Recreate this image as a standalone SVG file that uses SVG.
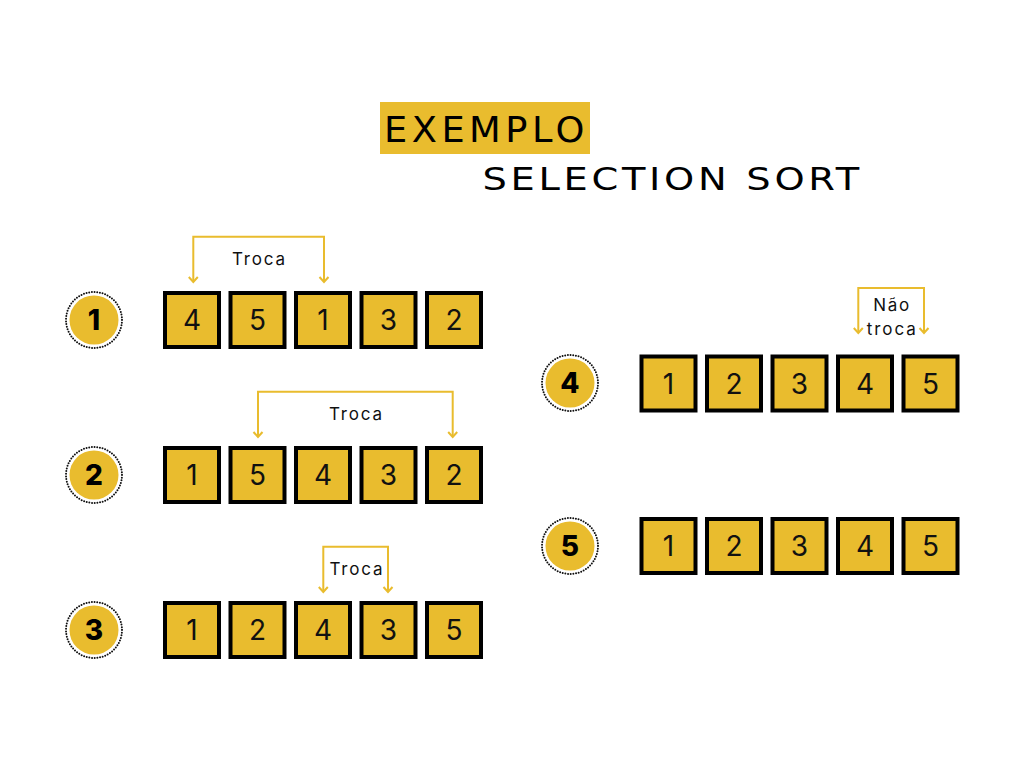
<svg xmlns="http://www.w3.org/2000/svg" width="1024" height="768" viewBox="0 0 1024 768">
<defs>
<style>
.box rect{fill:#E9BC2E;stroke:#000;stroke-width:4}
.box text{font-family:Inter,"Noto Sans",sans-serif;font-size:28px;fill:#111;text-anchor:middle}
.step circle.in{fill:#E9BC2E}
.step circle.ring{fill:none;stroke:#111;stroke-width:2;stroke-dasharray:0 2.7;stroke-linecap:round}
.step text{font-family:Inter,"Noto Sans",sans-serif;font-size:28px;font-weight:800;fill:#000;text-anchor:middle}
.conn{fill:none;stroke:#E9BC2E;stroke-width:2}
.lbl{font-family:Inter,"Noto Sans",sans-serif;font-size:17px;fill:#111;text-anchor:middle}
.title{font-family:"DejaVu Sans","Noto Sans",sans-serif;fill:#000}
</style>
<marker id="ah" markerUnits="userSpaceOnUse" markerWidth="14" markerHeight="14" viewBox="-7 -7 14 14" refX="0" refY="0" orient="auto-start-reverse">
<path d="M-5,-4.5 L0,0 L-5,4.5" fill="none" stroke="#E9BC2E" stroke-width="2"/>
</marker>
</defs>
<rect width="1024" height="768" fill="#fff"/>

<g id="title">
<rect x="380" y="102" width="210" height="52" fill="#E9BC2E"/>
<text class="title" transform="translate(384,141.5) scale(1.05,1)" x="0" y="0" font-size="35" textLength="191" lengthAdjust="spacing">EXEMPLO</text>
<text class="title" transform="translate(482.5,190) scale(1.2,1)" x="0" y="0" font-size="32" textLength="314" lengthAdjust="spacing">SELECTION SORT</text>
</g>

<g id="connectors">
<path class="conn" d="M193.3,282 V236.7 H324 V282" marker-start="url(#ah)" marker-end="url(#ah)"/>
<path class="conn" d="M258,437 V391.7 H452.7 V437" marker-start="url(#ah)" marker-end="url(#ah)"/>
<path class="conn" d="M323.3,592 V546.7 H388 V592" marker-start="url(#ah)" marker-end="url(#ah)"/>
<path class="conn" d="M858.3,333 V288 H924 V333" marker-start="url(#ah)" marker-end="url(#ah)"/>
</g>

<g id="labels">
<text class="lbl" x="258.5" y="265" textLength="53" lengthAdjust="spacing">Troca</text>
<text class="lbl" x="355.5" y="420" textLength="53" lengthAdjust="spacing">Troca</text>
<text class="lbl" x="356" y="575" textLength="53" lengthAdjust="spacing">Troca</text>
<text class="lbl" x="891.3" y="310.7" textLength="36" lengthAdjust="spacing">Não</text>
<text class="lbl" x="891.3" y="335" textLength="49" lengthAdjust="spacing">troca</text>
</g>

<g id="step1" class="step"><circle class="in" cx="94" cy="320" r="24.5"/><circle class="ring" cx="94" cy="320" r="28"/><text x="94" y="330">1</text></g>
<g id="step2" class="step"><circle class="in" cx="94" cy="475" r="24.5"/><circle class="ring" cx="94" cy="475" r="28"/><text x="94" y="485">2</text></g>
<g id="step3" class="step"><circle class="in" cx="94" cy="630" r="24.5"/><circle class="ring" cx="94" cy="630" r="28"/><text x="94" y="640">3</text></g>
<g id="step4" class="step"><circle class="in" cx="570" cy="383" r="24.5"/><circle class="ring" cx="570" cy="383" r="28"/><text x="570" y="393">4</text></g>
<g id="step5" class="step"><circle class="in" cx="570" cy="546" r="24.5"/><circle class="ring" cx="570" cy="546" r="28"/><text x="570" y="556">5</text></g>

<g id="row1">
<g id="r1b1" class="box"><rect x="165" y="293" width="54" height="54"/><text x="192" y="330">4</text></g>
<g id="r1b2" class="box"><rect x="230.5" y="293" width="54" height="54"/><text x="257.5" y="330">5</text></g>
<g id="r1b3" class="box"><rect x="296" y="293" width="54" height="54"/><text x="323" y="330">1</text></g>
<g id="r1b4" class="box"><rect x="361.5" y="293" width="54" height="54"/><text x="388.5" y="330">3</text></g>
<g id="r1b5" class="box"><rect x="427" y="293" width="54" height="54"/><text x="454" y="330">2</text></g>
</g>
<g id="row2">
<g id="r2b1" class="box"><rect x="165" y="448" width="54" height="54"/><text x="192" y="485">1</text></g>
<g id="r2b2" class="box"><rect x="230.5" y="448" width="54" height="54"/><text x="257.5" y="485">5</text></g>
<g id="r2b3" class="box"><rect x="296" y="448" width="54" height="54"/><text x="323" y="485">4</text></g>
<g id="r2b4" class="box"><rect x="361.5" y="448" width="54" height="54"/><text x="388.5" y="485">3</text></g>
<g id="r2b5" class="box"><rect x="427" y="448" width="54" height="54"/><text x="454" y="485">2</text></g>
</g>
<g id="row3">
<g id="r3b1" class="box"><rect x="165" y="603" width="54" height="54"/><text x="192" y="640">1</text></g>
<g id="r3b2" class="box"><rect x="230.5" y="603" width="54" height="54"/><text x="257.5" y="640">2</text></g>
<g id="r3b3" class="box"><rect x="296" y="603" width="54" height="54"/><text x="323" y="640">4</text></g>
<g id="r3b4" class="box"><rect x="361.5" y="603" width="54" height="54"/><text x="388.5" y="640">3</text></g>
<g id="r3b5" class="box"><rect x="427" y="603" width="54" height="54"/><text x="454" y="640">5</text></g>
</g>
<g id="row4">
<g id="r4b1" class="box"><rect x="641.5" y="356.5" width="54" height="54"/><text x="668.5" y="393.5">1</text></g>
<g id="r4b2" class="box"><rect x="707" y="356.5" width="54" height="54"/><text x="734" y="393.5">2</text></g>
<g id="r4b3" class="box"><rect x="772.5" y="356.5" width="54" height="54"/><text x="799.5" y="393.5">3</text></g>
<g id="r4b4" class="box"><rect x="838" y="356.5" width="54" height="54"/><text x="865" y="393.5">4</text></g>
<g id="r4b5" class="box"><rect x="903.5" y="356.5" width="54" height="54"/><text x="930.5" y="393.5">5</text></g>
</g>
<g id="row5">
<g id="r5b1" class="box"><rect x="641.5" y="519" width="54" height="54"/><text x="668.5" y="556">1</text></g>
<g id="r5b2" class="box"><rect x="707" y="519" width="54" height="54"/><text x="734" y="556">2</text></g>
<g id="r5b3" class="box"><rect x="772.5" y="519" width="54" height="54"/><text x="799.5" y="556">3</text></g>
<g id="r5b4" class="box"><rect x="838" y="519" width="54" height="54"/><text x="865" y="556">4</text></g>
<g id="r5b5" class="box"><rect x="903.5" y="519" width="54" height="54"/><text x="930.5" y="556">5</text></g>
</g>
</svg>
